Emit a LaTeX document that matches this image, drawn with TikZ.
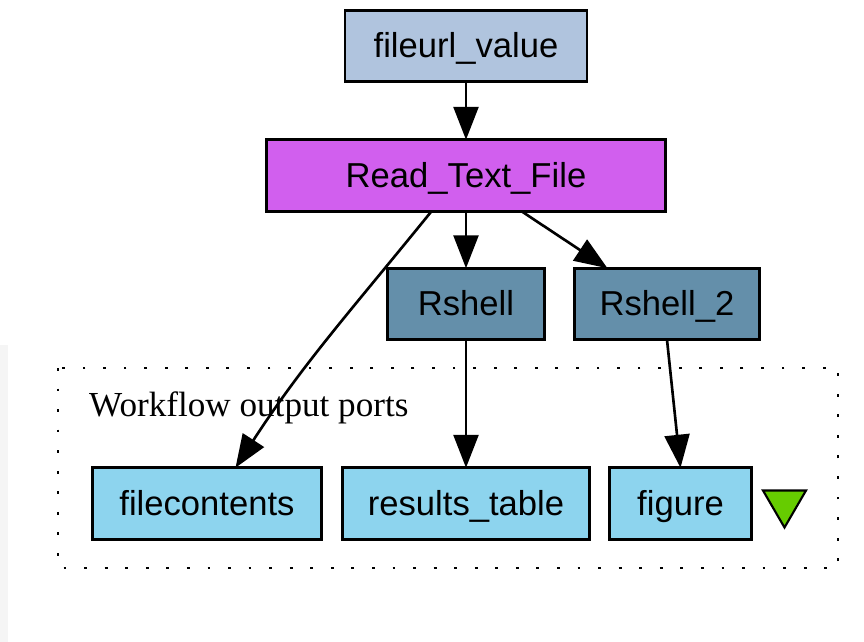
\documentclass[tikz,border=0pt]{standalone}
\usepackage{fontspec}
\setmainfont{Liberation Serif}
\setsansfont{Liberation Sans}
\usetikzlibrary{positioning}
\usetikzlibrary{calc}
\usetikzlibrary{arrows.meta}

\definecolor{urlblue}{HTML}{B0C4DE}
\definecolor{procpink}{HTML}{D15FEE}
\definecolor{rshellblue}{HTML}{648FAA}
\definecolor{portblue}{HTML}{8DD4EE}
\definecolor{trigreen}{HTML}{66CC00}

\begin{document}
\begin{tikzpicture}[text centered, font=\sffamily\fontsize{19.7}{24}\selectfont,
        box/.style={draw=black, line width=1.5pt, minimum height=1.43cm, inner sep=0pt, outer sep=0pt,
            text height=14.1pt, text depth=0.6pt},
        arr/.style={-{Triangle[length=0.66cm,width=0.5cm]}, line width=1.5pt}]
        \useasboundingbox (0,0) rectangle (17.28,-12.84);
        \fill[black!4] (0,-6.9) rectangle (0.16,-12.84);

        \node[box, fill=urlblue, minimum width=4.84cm] (fileurl) at (9.32,-0.92) {fileurl\_value};
        \node[box, fill=procpink, minimum width=7.98cm, below = 1.16cm of fileurl] (read) {Read\_Text\_File};
        \node[box, fill=rshellblue, minimum width=3.14cm, below = 1.14cm of read] (rshell) {Rshell};
        \node[box, fill=rshellblue, minimum width=3.70cm, right = 0.6cm of rshell] (rshell_2) {Rshell\_2};

        \draw[dotted, line width=1.6pt, dash pattern=on 1.6pt off 10.1pt] (1.16,-7.36) rectangle (16.76,-11.36);
        \node[font=\rmfamily\fontsize{20}{24}\selectfont, anchor=west] (ports) at (1.66,-8.16) {Workflow output ports};

        \node[box, fill=portblue, minimum width=4.94cm, below = 2.56cm of rshell] (results) {results\_table};
        \node[box, fill=portblue, minimum width=4.58cm, left = 0.42cm of results] (filecontents) {filecontents};
        \node[box, fill=portblue, minimum width=2.84cm, right = 0.4cm of results] (figure) {figure};

        \coordinate (tri) at ($(figure.east)+(0.66,0)$);
        \draw[fill=trigreen, line width=1.2pt] ($(tri)+(-0.43,0.26)$) -- ($(tri)+(0.43,0.26)$) -- ($(tri)+(0,-0.48)$) -- cycle;

        \draw[arr] (fileurl) -- (read);
        \draw[arr] (read) -- (rshell);
        \draw[arr] ([xshift=1.11cm]read.south) -- ([xshift=-1.19cm]rshell_2.north);
        \draw[arr] ([xshift=-0.69cm]read.south) to[out=-129, in=57] ([xshift=0.57cm]filecontents.north);
        \draw[arr] (rshell) -- (results);
        \draw[arr] (rshell_2.south) -- (figure.north);
    \end{tikzpicture}
\end{document}
